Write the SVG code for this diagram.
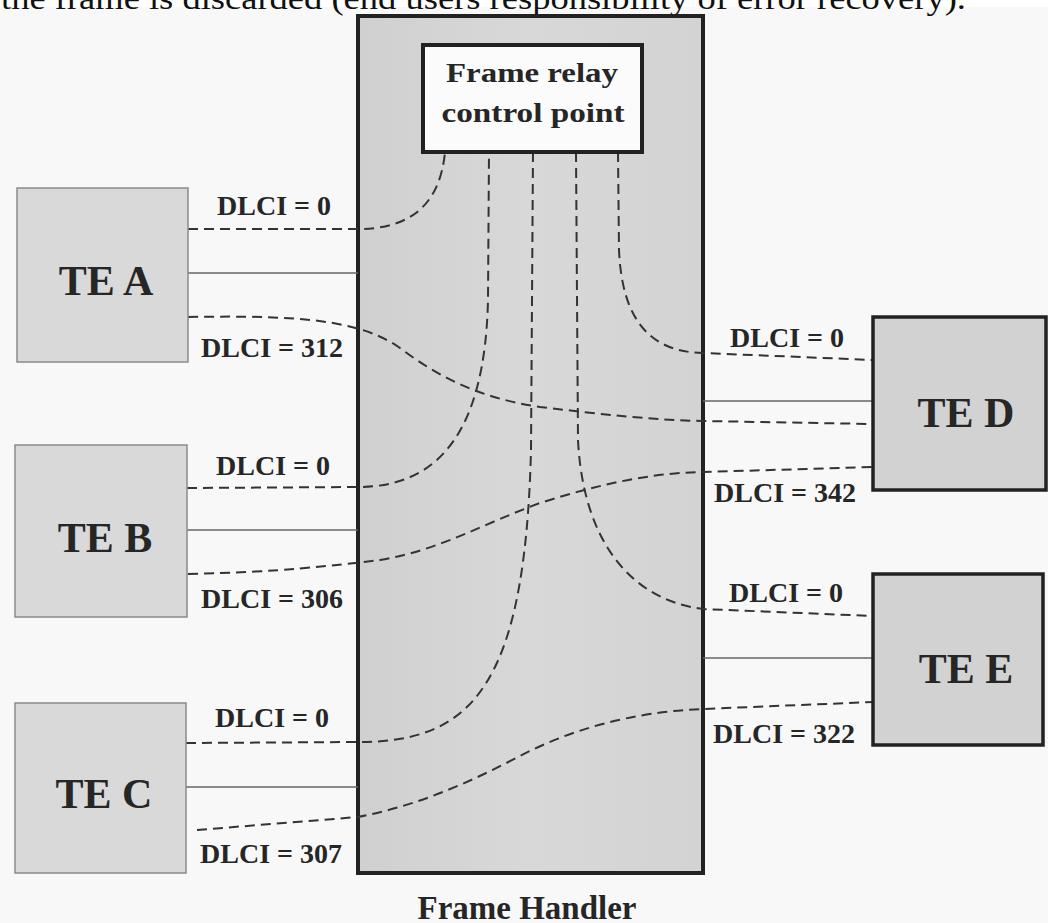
<svg xmlns="http://www.w3.org/2000/svg" width="1048" height="923" viewBox="0 0 1048 923">
  <style>
    .caption { font-family: "Liberation Serif", "Times New Roman", serif; font-size: 32px; fill: #111; }
    .lbl { font-family: "Liberation Serif", "Times New Roman", serif; font-weight: bold; fill: #262626; text-anchor: middle; }
    .dlci { font-size: 28px; }
    .te { font-size: 42px; }
    .cp { font-size: 28px; }
    .fh { font-size: 33px; }
    .te-l { fill: #d9d9d9; stroke: #8a8a8a; stroke-width: 1.5; }
    .te-r { fill: #d2d2d2; stroke: #222; stroke-width: 3.5; }
    .dash { fill: none; stroke: #333; stroke-width: 2; stroke-dasharray: 10 6; }
    .solid { fill: none; stroke: #666; stroke-width: 1.5; }
  </style>
  <defs>
    <linearGradient id="fhFill" x1="0" y1="0" x2="1" y2="0">
      <stop offset="0" stop-color="#d0d0d0"/>
      <stop offset="0.5" stop-color="#d8d8d8"/>
      <stop offset="1" stop-color="#d3d3d3"/>
    </linearGradient>
  </defs>

  <rect x="0" y="0" width="1048" height="923" fill="#f8f8f8"/>
  <rect x="0" y="0" width="1048" height="7" fill="#ffffff"/>

  <text class="caption" x="1" y="9" textLength="965" lengthAdjust="spacingAndGlyphs">the frame is discarded (end users responsibility of error recovery).</text>

  <!-- frame handler body -->
  <g id="frame-handler">
    <rect x="358" y="16" width="345" height="857" fill="url(#fhFill)" stroke="#222" stroke-width="4"/>
    <text class="lbl fh" x="527" y="919">Frame Handler</text>
  </g>

  <!-- connectors: physical links (solid) and logical connections (dashed) -->
  <g id="connectors">
    <line class="solid" x1="188" y1="273" x2="358" y2="273"/>
    <line class="solid" x1="187" y1="530" x2="358" y2="530"/>
    <line class="solid" x1="186" y1="787" x2="358" y2="787"/>
    <line class="solid" x1="703" y1="401" x2="873" y2="401"/>
    <line class="solid" x1="703" y1="658" x2="873" y2="658"/>

    <!-- signalling channels DLCI = 0 -->
    <path class="dash" d="M188,229 L358,229 C 410,229 440,205 445,152"/>
    <path class="dash" d="M187,488 L358,487 C 440,487 485,430 488,300 L489,152"/>
    <path class="dash" d="M186,743 L358,742 C 470,742 525,690 531,450 L533,152"/>
    <path class="dash" d="M576,152 L578,440 C 583,540 630,600 703,609 L873,616"/>
    <path class="dash" d="M618,152 L619,250 C 622,320 650,352 703,353 L873,360"/>

    <!-- user connections -->
    <path class="dash" d="M188,317 C 300,315 360,320 400,348 C 440,378 480,398 540,407 C 600,414 650,420 703,421 L873,424"/>
    <path class="dash" d="M188,574 C 280,572 330,566 380,560 C 440,550 480,525 540,503 C 600,484 650,473 703,472 L873,467"/>
    <path class="dash" d="M197,830 L358,817 C 420,805 470,782 520,756 C 570,730 630,712 703,709 L873,702"/>
  </g>

  <g id="control-point">
    <rect x="423" y="45" width="219" height="107" fill="#fbfbfb" stroke="#222" stroke-width="4"/>
    <text class="lbl cp" x="532" y="82" textLength="172" lengthAdjust="spacingAndGlyphs">Frame relay</text>
    <text class="lbl cp" x="533" y="122" textLength="183" lengthAdjust="spacingAndGlyphs">control point</text>
  </g>

  <g id="te-a">
    <rect class="te-l" x="17" y="188" width="171" height="174"/>
    <text class="lbl te" x="106" y="295">TE A</text>
    <text class="lbl dlci" x="274" y="215">DLCI = 0</text>
    <text class="lbl dlci" x="272" y="357">DLCI = 312</text>
  </g>

  <g id="te-b">
    <rect class="te-l" x="15" y="445" width="172" height="172"/>
    <text class="lbl te" x="105" y="552">TE B</text>
    <text class="lbl dlci" x="273" y="475">DLCI = 0</text>
    <text class="lbl dlci" x="272" y="608">DLCI = 306</text>
  </g>

  <g id="te-c">
    <rect class="te-l" x="15" y="703" width="171" height="170"/>
    <text class="lbl te" x="104" y="808">TE C</text>
    <text class="lbl dlci" x="272" y="727">DLCI = 0</text>
    <text class="lbl dlci" x="271" y="863">DLCI = 307</text>
  </g>

  <g id="te-d">
    <rect class="te-r" x="873" y="317" width="173" height="173"/>
    <text class="lbl te" x="966" y="427">TE D</text>
    <text class="lbl dlci" x="787" y="347">DLCI = 0</text>
    <text class="lbl dlci" x="785" y="502">DLCI = 342</text>
  </g>

  <g id="te-e">
    <rect class="te-r" x="873" y="574" width="170" height="171"/>
    <text class="lbl te" x="966" y="683">TE E</text>
    <text class="lbl dlci" x="786" y="602">DLCI = 0</text>
    <text class="lbl dlci" x="784" y="743">DLCI = 322</text>
  </g>
</svg>
